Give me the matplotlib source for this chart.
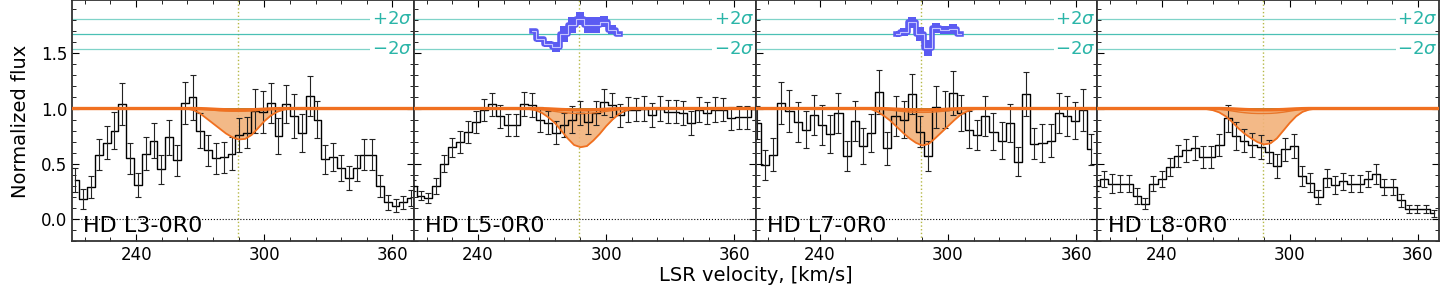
import numpy as np
import matplotlib
matplotlib.use("Agg")
import matplotlib.pyplot as plt
from matplotlib.ticker import MultipleLocator
import matplotlib.transforms as mtransforms

# panel names
names = ["HD L3-0R0", "HD L5-0R0", "HD L7-0R0", "HD L8-0R0"]

# velocity grid of each spectrum: first bin centre and bin width [km/s]
v_start = [211.6, 209.4, 210.55, 209.2]
v_step = [3.655, 3.73, 3.82, 3.86]

# normalized flux
flux1 = [0.35, 0.18, 0.29, 0.58, 0.69, 0.80, 1.04, 0.55, 0.31, 0.59, 0.71, 0.45, 0.74, 0.53,
         1.05, 1.10, 0.80, 0.62, 0.55, 0.56, 0.59, 0.76, 0.78, 0.98, 0.97, 1.05, 0.75, 1.04,
         0.93, 0.78, 1.11, 0.90, 0.54, 0.56, 0.46, 0.37, 0.46, 0.58, 0.58, 0.30, 0.15, 0.12,
         0.15, 0.19]
err1 = [0.11, 0.09, 0.10, 0.14, 0.15, 0.17, 0.19, 0.14, 0.11, 0.15, 0.16, 0.13, 0.16, 0.14,
        0.19, 0.20, 0.16, 0.14, 0.14, 0.14, 0.15, 0.15, 0.14, 0.20, 0.19, 0.18, 0.16, 0.17,
        0.20, 0.17, 0.18, 0.17, 0.13, 0.13, 0.12, 0.11, 0.12, 0.14, 0.14, 0.10, 0.07, 0.06,
        0.06, 0.07]

flux2 = [0.30, 0.21, 0.19, 0.30, 0.50, 0.65, 0.70, 0.79, 0.88, 0.99, 1.04, 0.93, 0.85, 0.85,
         1.04, 1.03, 0.90, 0.87, 0.78, 0.85, 0.90, 0.96, 0.88, 0.96, 1.06, 1.03, 0.94, 0.99,
         0.99, 1.00, 0.94, 1.00, 0.97, 0.97, 0.96, 0.87, 0.99, 0.96, 0.99, 0.99, 0.91, 0.92,
         0.92, 1.00]
err2 = [0.05, 0.04, 0.045, 0.07, 0.075, 0.085, 0.10, 0.10, 0.10, 0.10, 0.105, 0.105, 0.10, 0.10,
        0.11, 0.11, 0.11, 0.105, 0.105, 0.105, 0.12, 0.105, 0.11, 0.105, 0.115, 0.11, 0.105, 0.11,
        0.105, 0.11, 0.11, 0.11, 0.105, 0.105, 0.105, 0.11, 0.11, 0.10, 0.11, 0.105, 0.105, 0.105,
        0.105, 0.105]

flux3 = [0.87, 0.49, 0.58, 1.05, 0.98, 0.88, 0.81, 0.94, 0.85, 0.77, 0.96, 0.57, 0.89, 0.66,
         0.78, 1.15, 0.64, 0.93, 0.90, 1.13, 0.79, 0.57, 1.01, 0.99, 1.14, 0.96, 0.81, 0.76,
         0.93, 0.79, 0.71, 0.87, 0.52, 1.13, 0.68, 0.69, 0.71, 0.96, 0.93, 0.89, 0.99, 0.63]
err3 = [0.15, 0.135, 0.15, 0.19, 0.19, 0.18, 0.17, 0.18, 0.18, 0.17, 0.18, 0.14, 0.18, 0.16,
        0.17, 0.20, 0.15, 0.18, 0.17, 0.18, 0.14, 0.14, 0.19, 0.17, 0.20, 0.16, 0.17, 0.14,
        0.18, 0.17, 0.17, 0.17, 0.13, 0.20, 0.14, 0.17, 0.15, 0.18, 0.18, 0.17, 0.19, 0.14]

flux4 = [0.30, 0.36, 0.32, 0.32, 0.32, 0.21, 0.14, 0.32, 0.36, 0.47, 0.57, 0.62, 0.64, 0.56,
         0.56, 0.67, 0.91, 0.75, 0.71, 0.67, 0.65, 0.61, 0.48, 0.63, 0.66, 0.39, 0.33, 0.20,
         0.37, 0.31, 0.34, 0.32, 0.32, 0.36, 0.41, 0.29, 0.29, 0.17, 0.09, 0.09, 0.09, 0.05]
err4 = [0.05, 0.075, 0.085, 0.075, 0.075, 0.07, 0.05, 0.07, 0.075, 0.08, 0.10, 0.10, 0.11, 0.10,
        0.10, 0.10, 0.125, 0.13, 0.105, 0.11, 0.11, 0.105, 0.105, 0.105, 0.11, 0.09, 0.085, 0.065,
        0.085, 0.08, 0.075, 0.075, 0.075, 0.07, 0.09, 0.075, 0.075, 0.06, 0.04, 0.04, 0.04, 0.03]

fluxes = [flux1, flux2, flux3, flux4]
errors = [err1, err2, err3, err4]

# fitted profiles
model_v = [205, 258, 261, 264, 267, 270, 273, 276, 279, 282, 285, 288, 291, 294, 297, 300,
           303, 306, 309, 312, 315, 375]
deep = [
    [1.0, 1.0, 1.0, 0.998, 0.985, 0.955, 0.91, 0.865, 0.82, 0.775, 0.74, 0.72, 0.725, 0.76,
     0.82, 0.885, 0.935, 0.97, 0.99, 0.998, 1.0, 1.0],
    [1.0, 1.0, 1.0, 0.995, 0.985, 0.96, 0.92, 0.87, 0.80, 0.73, 0.67, 0.65, 0.66, 0.71,
     0.77, 0.84, 0.90, 0.95, 0.98, 0.995, 1.0, 1.0],
    [1.0, 1.0, 1.0, 0.995, 0.97, 0.935, 0.89, 0.835, 0.78, 0.73, 0.69, 0.665, 0.68, 0.73,
     0.785, 0.84, 0.895, 0.945, 0.975, 0.993, 1.0, 1.0],
    [1.0, 1.0, 0.995, 0.985, 0.965, 0.93, 0.88, 0.82, 0.77, 0.73, 0.695, 0.675, 0.685, 0.73,
     0.80, 0.87, 0.93, 0.97, 0.99, 0.998, 1.0, 1.0],
]
mid = [
    [1.0, 1.0, 1.0, 1.0, 0.998, 0.995, 0.99, 0.985, 0.98, 0.977, 0.975, 0.975, 0.976, 0.979,
     0.983, 0.988, 0.993, 0.997, 0.999, 1.0, 1.0, 1.0],
    [1.0, 1.0, 1.0, 0.999, 0.996, 0.99, 0.982, 0.974, 0.966, 0.96, 0.956, 0.955, 0.956, 0.96,
     0.966, 0.974, 0.982, 0.99, 0.996, 0.999, 1.0, 1.0],
    [1.0, 1.0, 1.0, 0.999, 0.997, 0.992, 0.986, 0.979, 0.973, 0.968, 0.966, 0.965, 0.966, 0.969,
     0.974, 0.98, 0.987, 0.993, 0.997, 0.999, 1.0, 1.0],
    [1.0, 1.0, 1.0, 0.998, 0.994, 0.987, 0.978, 0.969, 0.962, 0.957, 0.955, 0.955, 0.956, 0.96,
     0.967, 0.976, 0.985, 0.993, 0.997, 0.999, 1.0, 1.0],
]
top = [1.0, 1.0, 1.0, 1.0, 1.0, 0.999, 0.997, 0.994, 0.991, 0.989, 0.988, 0.988, 0.988, 0.989,
       0.991, 0.994, 0.997, 0.999, 1.0, 1.0, 1.0, 1.0]

# residuals shown on the sigma band (panel index -> first bin, values, half widths)
resid = {
    1: (15, [0.03, -0.05, -0.09, -0.12, 0.0, 0.08, 0.14, 0.08, 0.08, 0.11, 0.04, 0.0],
        [0.01, 0.025, 0.03, 0.045, 0.07, 0.075, 0.06, 0.075, 0.075, 0.05, 0.04, 0.01]),
    2: (17, [0.0, 0.015, 0.105, 0.0, -0.125, 0.05, 0.035, 0.045, 0.0],
        [0.025, 0.035, 0.05, 0.06, 0.07, 0.045, 0.035, 0.045, 0.01]),
}

v_line = 287.5
band_mid, band_half = 1.675, 0.14

orange = "#f07020"
teal = "#2ab5a8"

fig = plt.figure(figsize=(14.4, 2.88), dpi=100)
axes = fig.subplots(1, 4, sharey=True)
fig.subplots_adjust(left=0.05, right=0.9995, bottom=0.163, top=0.999, wspace=0)

for i, ax in enumerate(axes):
    v = v_start[i] + v_step[i] * np.arange(len(fluxes[i]))
    f = np.array(fluxes[i])

    # zero level, line position, sigma band
    ax.axhline(0, color="k", ls=":", lw=0.8, zorder=1)
    ax.axvline(v_line, color="#b5b845", ls=":", lw=1.0, zorder=1)
    ax.axhline(band_mid, color=teal, lw=0.9, alpha=0.85, zorder=1)
    for s in (1, -1):
        ax.axhline(band_mid + s * band_half, color="#7fd3c8", lw=0.9, zorder=1)
    tr = mtransforms.blended_transform_factory(ax.transAxes, ax.transData)
    ax.text(0.995, band_mid + band_half, r"$+2\sigma$", transform=tr, ha="right", va="center",
            color=teal, fontsize=13, bbox=dict(facecolor="white", edgecolor="none", pad=1), zorder=2)
    ax.text(0.995, band_mid - band_half, r"$-2\sigma$", transform=tr, ha="right", va="center",
            color=teal, fontsize=13, bbox=dict(facecolor="white", edgecolor="none", pad=1), zorder=2)

    # data
    ax.plot(v, f, drawstyle="steps-mid", color="k", lw=1.0, zorder=4)
    ax.errorbar(v, f, yerr=errors[i], fmt="none", ecolor="#222222", elinewidth=0.8,
                capsize=2, capthick=0.8, zorder=4)

    # model
    ax.fill_between(model_v, deep[i], top, color="#f2b27a", alpha=0.9, lw=0, zorder=3)
    ax.plot(model_v, deep[i], color=orange, lw=1.3, zorder=5)
    ax.plot(model_v, mid[i], color="#e8762a", lw=1.0, zorder=5)
    ax.axhline(1.0, color="#2e8b2e", lw=1.2, zorder=5)
    ax.plot(model_v, top, color=orange, lw=2.4, zorder=6)

    # residuals
    if i in resid:
        k0, r, re = resid[i]
        vr = v_start[i] + v_step[i] * np.arange(k0, k0 + len(r))
        r = np.array(r) + band_mid
        re = np.array(re)
        ax.fill_between(vr, r - re, r + re, step="mid", color="#5b5bf2", lw=0, zorder=3)
        ax.plot(vr, r, drawstyle="steps-mid", color="#5b5bf2", lw=4, zorder=3)
        ax.plot(vr, r, drawstyle="steps-mid", color="#c4c4ff", lw=0.8, zorder=3)

    ax.text(0.032, 0.037, names[i], transform=ax.transAxes, fontsize=16, va="baseline", zorder=7)

    ax.set_xlim(210, 370)
    ax.set_ylim(-0.2, 1.98)
    ax.xaxis.set_major_locator(MultipleLocator(60))
    ax.xaxis.set_minor_locator(MultipleLocator(12))
    ax.yaxis.set_major_locator(MultipleLocator(0.5))
    ax.yaxis.set_minor_locator(MultipleLocator(0.1))
    ax.tick_params(which="both", direction="in", top=True, right=True, labelsize=12)
    ax.tick_params(which="major", length=5)
    ax.tick_params(which="minor", length=3)
    for sp in ax.spines.values():
        sp.set_linewidth(1.3)
        sp.set_color("#333333")

fig.text(21 / 1440, 0.58, "Normalized flux", rotation=90, ha="center", va="center", fontsize=14)
fig.text(0.525, 0.012, "LSR velocity, [km/s]", ha="center", va="bottom", fontsize=14)

fig.savefig("out.png", dpi=100)
